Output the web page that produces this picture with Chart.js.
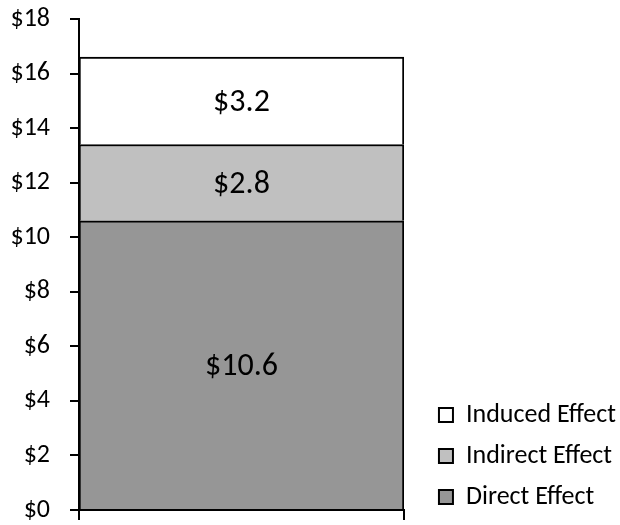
<!DOCTYPE html>
<html>
<head>
<meta charset="utf-8">
<script src="https://cdn.jsdelivr.net/npm/chart.js@4/dist/chart.umd.min.js"></script>
<style>
html,body{margin:0;padding:0;background:#fff;}
#wrap{width:620px;height:525px;position:relative;}
</style>
</head>
<body>
<div id="wrap"><canvas id="c" width="620" height="525"></canvas></div>
<script>
const categories = [''];
const seriesNames = ['Direct Effect', 'Indirect Effect', 'Induced Effect'];
const directValues = [10.6];
const indirectValues = [2.8];
const inducedValues = [3.2];
const yTicks = [0, 2, 4, 6, 8, 10, 12, 14, 16, 18];
const seriesColors = ['#969696', '#c0c0c0', '#ffffff'];

const FONT = 'Carlito, Lato, "Liberation Sans", sans-serif';

const valueLabels = {
  id: 'valueLabels',
  afterDatasetsDraw(chart) {
    const ctx = chart.ctx;
    ctx.save();
    ctx.font = '32px ' + FONT;
    ctx.fillStyle = '#000';
    ctx.textAlign = 'center';
    ctx.textBaseline = 'middle';
    chart.data.datasets.forEach((ds, i) => {
      const meta = chart.getDatasetMeta(i);
      meta.data.forEach((el, j) => {
        const v = ds.data[j];
        const p = el.getProps(['x', 'y', 'base'], true);
        ctx.fillText('$' + v.toFixed(1), p.x, (p.y + p.base) / 2 + 2);
      });
    });
    ctx.restore();
  }
};

new Chart(document.getElementById('c'), {
  type: 'bar',
  data: {
    labels: categories,
    datasets: [
      { label: seriesNames[0], data: directValues, backgroundColor: seriesColors[0] },
      { label: seriesNames[1], data: indirectValues, backgroundColor: seriesColors[1] },
      { label: seriesNames[2], data: inducedValues, backgroundColor: seriesColors[2] }
    ].map(d => Object.assign(d, { borderColor: '#000', borderWidth: 2, barPercentage: 1, categoryPercentage: 1 }))
  },
  options: {
    responsive: false,
    animation: false,
    layout: { padding: { left: 0, top: 19, bottom: 0, right: -6 } },
    plugins: {
      legend: {
        position: 'right',
        align: 'end',
        reverse: true,
        maxWidth: 260,
        labels: {
          font: { family: FONT, size: 26 },
          color: '#000',
          boxWidth: 14,
          boxHeight: 14,
          padding: 15
        }
      },
      tooltip: { enabled: false }
    },
    scales: {
      x: {
        stacked: true,
        grid: { display: true, drawOnChartArea: false, drawTicks: true, tickLength: 10, color: '#000', lineWidth: 2, offset: true },
        border: { display: true, color: '#000', width: 2 },
        ticks: { display: false },
        afterFit(scale) { scale.height = 15; scale.paddingLeft = 0; scale.paddingRight = 0; }
      },
      y: {
        stacked: true,
        min: 0,
        max: 18,
        afterBuildTicks(scale) { scale.ticks = yTicks.map(v => ({ value: v })); },
        grid: { display: true, drawOnChartArea: false, drawTicks: true, tickLength: 9, color: '#000', lineWidth: 2 },
        border: { display: true, color: '#000', width: 2 },
        ticks: {
          font: { family: FONT, size: 26 },
          color: '#000',
          padding: 20,
          callback: v => '$' + v
        },
        afterFit(scale) { scale.width = 79; scale.paddingTop = 0; scale.paddingBottom = 0; }
      },
      yR: {
        position: 'right',
        display: true,
        grid: { display: false },
        border: { display: false },
        ticks: { display: false },
        afterFit(scale) { scale.width = 20; scale.paddingTop = 0; scale.paddingBottom = 0; }
      }
    }
  },
  plugins: [valueLabels]
});
</script>
</body>
</html>
